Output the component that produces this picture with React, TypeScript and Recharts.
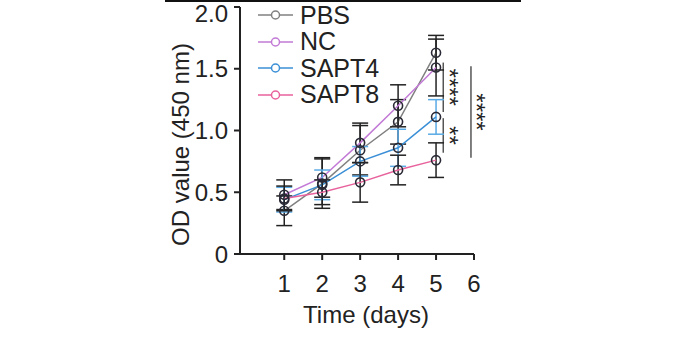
import { ComposedChart, Line, XAxis, YAxis, ErrorBar, ReferenceLine, Legend } from 'recharts';

const days = [1, 2, 3, 4, 5];
const pbs = [0.35, 0.57, 0.84, 1.07, 1.63];
const pbsErr = [0.12, 0.2, 0.2, 0.18, 0.14];
const nc = [0.48, 0.62, 0.9, 1.2, 1.51];
const ncErr = [0.12, 0.16, 0.16, 0.17, 0.23];
const sapt4 = [0.44, 0.56, 0.75, 0.86, 1.11];
const sapt4Err = [0.1, 0.12, 0.12, 0.15, 0.14];
const sapt8 = [0.45, 0.5, 0.58, 0.68, 0.76];
const sapt8Err = [0.1, 0.1, 0.16, 0.12, 0.14];

const seriesOrder = ['PBS', 'NC', 'SAPT4', 'SAPT8'];
const xTicks = [1, 2, 3, 4, 5, 6];
const yTicks = [0, 0.5, 1, 1.5, 2];

// significance brackets: x in days, y range in OD
const brackets = [
  { x: 5.19, y1: 1.55, y2: 1.15, stars: '****' },
  { x: 5.19, y1: 1.1, y2: 0.82, stars: '**' },
  { x: 5.92, y1: 1.52, y2: 0.78, stars: '****' },
];

const data = days.map((d, i) => ({
  day: d,
  pbs: pbs[i], pbsErr: pbsErr[i],
  nc: nc[i], ncErr: ncErr[i],
  sapt4: sapt4[i], sapt4Err: sapt4Err[i],
  sapt8: sapt8[i], sapt8Err: sapt8Err[i],
}));

const FONT = '"Liberation Sans", Arial, sans-serif';
const INK = '#222';
const dot = { r: 4.5, stroke: '#2a2a36', strokeWidth: 1.6, fill: 'none' };

const renderLegend = (props: any) => {
  const items = [...(props.payload || [])].sort(
    (a: any, b: any) => seriesOrder.indexOf(a.value) - seriesOrder.indexOf(b.value));
  return (
    <div style={{ fontFamily: FONT, fontSize: 25, color: INK }}>
      {items.map((p: any) => (
        <div key={p.value} style={{ display: 'flex', alignItems: 'center', height: 26.5 }}>
          <svg width={42} height={26}>
            <line x1={0} x2={35} y1={13} y2={13} stroke={p.color} strokeWidth={1.5} />
            <circle cx={17.5} cy={13} r={4} stroke={p.color} strokeWidth={1.5} fill="#fff" />
          </svg>
          <span>{p.value}</span>
        </div>
      ))}
    </div>
  );
};

const starLabel = (stars: string) => (props: any) => {
  const vb = props.viewBox || {};
  const x = vb.x + 6;
  const y = vb.y + vb.height / 2;
  return (
    <text x={x} y={y} transform={`rotate(90 ${x} ${y})`} textAnchor="middle"
      dominantBaseline="central" fontSize={24} fill={INK} fontFamily={FONT}>
      {stars}
    </text>
  );
};

const yTitle = (props: any) => {
  const vb = props.viewBox;
  const x = vb.x + 180;
  const y = vb.y + vb.height / 2 + 14;
  return (
    <text x={x} y={y} transform={`rotate(-90 ${x} ${y})`} textAnchor="middle"
      dominantBaseline="central" fontSize={24} fill={INK} fontFamily={FONT}>
      OD value (450 nm)
    </text>
  );
};

const xTitle = (props: any) => {
  const vb = props.viewBox;
  return (
    <text x={vb.x + vb.width / 2 + 9} y={vb.y + 69} textAnchor="middle"
      fontSize={24} fill={INK} fontFamily={FONT}>
      Time (days)
    </text>
  );
};

export default function App() {
  return (
    <div style={{ position: 'absolute', left: 0, top: 0, width: 690, height: 345, background: '#fff', fontFamily: FONT }}>
      <div style={{ position: 'absolute', left: 165, top: 0, width: 356, height: 2, background: '#111' }} />
      <ComposedChart width={690} height={345} data={data}
        margin={{ top: 7, right: 216, bottom: 0, left: 0 }}>
        <XAxis dataKey="day" type="number" domain={[-0.166, 6]} ticks={xTicks} allowDataOverflow
          height={91} tickSize={6} tickMargin={15}
          axisLine={{ stroke: INK, strokeWidth: 2 }} tickLine={{ stroke: INK, strokeWidth: 2 }}
          tick={{ fontSize: 24, fill: INK, fontFamily: FONT }} label={xTitle} />
        <YAxis type="number" domain={[0, 2]} ticks={yTicks} width={240} tickSize={6} tickMargin={6}
          tickFormatter={(v: number) => (v === 0 ? '0' : v.toFixed(1))}
          axisLine={{ stroke: INK, strokeWidth: 2 }} tickLine={{ stroke: INK, strokeWidth: 2 }}
          tick={{ fontSize: 24, fill: INK, fontFamily: FONT }} label={yTitle} />
        <Legend layout="vertical" align="center" verticalAlign="middle" content={renderLegend}
          wrapperStyle={{ left: 258, top: 2, width: 140 }} />

        {brackets.map((b, i) => (
          <ReferenceLine key={i} segment={[{ x: b.x, y: b.y1 }, { x: b.x, y: b.y2 }]}
            stroke="#555" strokeWidth={1.5} label={starLabel(b.stars)} />
        ))}

        <Line type="linear" dataKey="pbs" name="PBS" stroke="#808080" strokeWidth={1.5}
          dot={dot} activeDot={false} isAnimationActive={false}>
          <ErrorBar dataKey="pbsErr" width={8} stroke={INK} strokeWidth={1.5} direction="y" isAnimationActive={false} />
        </Line>
        <Line type="linear" dataKey="nc" name="NC" stroke="#c27ad6" strokeWidth={1.5}
          dot={dot} activeDot={false} isAnimationActive={false}>
          <ErrorBar dataKey="ncErr" width={8} stroke={INK} strokeWidth={1.5} direction="y" isAnimationActive={false} />
        </Line>
        <Line type="linear" dataKey="sapt4" name="SAPT4" stroke="#3a8fd6" strokeWidth={1.5}
          dot={dot} activeDot={false} isAnimationActive={false}>
          <ErrorBar dataKey="sapt4Err" width={8} stroke="#5aaae6" strokeWidth={1.5} direction="y" isAnimationActive={false} />
        </Line>
        <Line type="linear" dataKey="sapt8" name="SAPT8" stroke="#e8629c" strokeWidth={1.5}
          dot={dot} activeDot={false} isAnimationActive={false}>
          <ErrorBar dataKey="sapt8Err" width={8} stroke={INK} strokeWidth={1.5} direction="y" isAnimationActive={false} />
        </Line>
      </ComposedChart>
    </div>
  );
}
